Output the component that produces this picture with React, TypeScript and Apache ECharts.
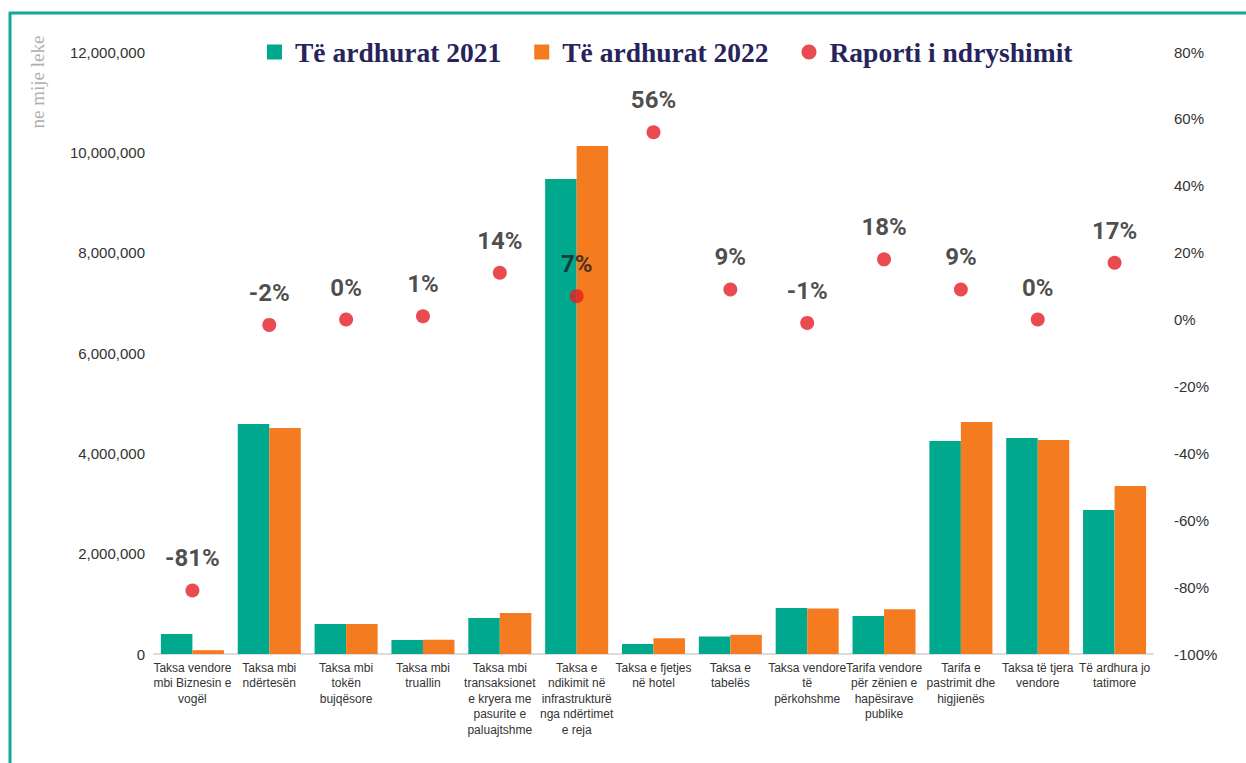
import React, { useEffect, useRef } from "react";
import * as echarts from "echarts";

const categories = [
  "Taksa vendore\nmbi Biznesin e\nvogël",
  "Taksa mbi\nndërtesën",
  "Taksa mbi\ntokën\nbujqësore",
  "Taksa mbi\ntruallin",
  "Taksa mbi\ntransaksionet\ne kryera me\npasurite e\npaluajtshme",
  "Taksa e\nndikimit në\ninfrastrukturë\nnga ndërtimet\ne reja",
  "Taksa e fjetjes\nnë hotel",
  "Taksa e\ntabelës",
  "Taksa vendore\ntë\npërkohshme",
  "Tarifa vendore\npër zënien e\nhapësirave\npublike",
  "Tarifa e\npastrimit dhe\nhigjienës",
  "Taksa të tjera\nvendore",
  "Të ardhura jo\ntatimore",
];

const revenue2021 = [
  400000, 4585000, 598000, 280000, 718000, 9468000, 200000, 350000, 917000,
  757000, 4246000, 4305000, 2870000,
];
const revenue2022 = [
  76000, 4505000, 598000, 282000, 817000, 10126000, 312000, 382000, 908000,
  893000, 4624000, 4265000, 3349000,
];
const changeRatio = [-81, -1.6, 0, 1, 14, 7, 56, 9, -1, 18, 9, 0, 17];

const leftTicks = { min: 0, max: 12000000, interval: 2000000 };
const rightTicks = { min: -100, max: 80, interval: 20 };

const seriesNames = ["Të ardhurat 2021", "Të ardhurat 2022", "Raporti i ndryshimit"];
const axisTitle = "ne mije leke";

const TEAL = "#00a88e";
const ORANGE = "#f47b20";
const RED = "#e41e26";
const NAVY = "#27245c";
const SANS = "'Liberation Sans', Arial, sans-serif";

export default function App() {
  const ref = useRef<HTMLDivElement>(null);

  useEffect(() => {
    if (!ref.current) return;
    const chart = echarts.init(ref.current, null, { renderer: "svg" });
    chart.setOption({
      animation: false,
      backgroundColor: "#ffffff",
      legend: {
        top: 33,
        left: 262,
        itemWidth: 15,
        itemHeight: 15,
        itemGap: 33,
        textStyle: {
          fontFamily: "'Liberation Serif', 'DejaVu Serif', serif",
          fontWeight: "bold",
          fontSize: 27.5,
          color: NAVY,
          padding: [0, 0, 0, 8],
        },
        data: [
          { name: seriesNames[0], icon: "rect" },
          { name: seriesNames[1], icon: "rect" },
          { name: seriesNames[2], icon: "circle" },
        ],
      },
      grid: { left: 154, right: 93, top: 52, bottom: 109 },
      xAxis: {
        type: "category",
        data: categories,
        axisLine: { show: true, lineStyle: { color: "#dcdcdc", width: 2 } },
        axisTick: { show: false },
        axisLabel: {
          interval: 0,
          margin: 6,
          fontFamily: SANS,
          fontSize: 12,
          lineHeight: 15.5,
          color: "#333333",
        },
      },
      yAxis: [
        {
          type: "value",
          min: leftTicks.min,
          max: leftTicks.max,
          interval: leftTicks.interval,
          splitLine: { show: false },
          axisLine: { show: false },
          axisTick: { show: false },
          axisLabel: {
            margin: 9,
            fontFamily: SANS,
            fontSize: 15,
            color: "#333333",
            formatter: (v: number) => v.toLocaleString("en-US"),
          },
        },
        {
          type: "value",
          min: rightTicks.min,
          max: rightTicks.max,
          interval: rightTicks.interval,
          splitLine: { show: false },
          axisLine: { show: false },
          axisTick: { show: false },
          axisLabel: {
            margin: 21,
            fontFamily: SANS,
            fontSize: 15,
            color: "#333333",
            formatter: (v: number) => `${v}%`,
          },
        },
      ],
      series: [
        {
          name: seriesNames[0],
          type: "bar",
          data: revenue2021,
          itemStyle: { color: TEAL },
          barGap: "0%",
          barCategoryGap: "18%",
        },
        {
          name: seriesNames[1],
          type: "bar",
          data: revenue2022,
          itemStyle: { color: ORANGE },
          barGap: "0%",
          barCategoryGap: "18%",
        },
        {
          name: seriesNames[2],
          type: "scatter",
          yAxisIndex: 1,
          data: changeRatio,
          symbolSize: 14,
          itemStyle: { color: RED },
          z: 5,
          label: {
            show: true,
            position: "top",
            distance: 13,
            fontFamily: "Roboto, sans-serif",
            fontWeight: "bold",
            fontSize: 24,
            color: "#1e1e1e",
            formatter: (p: any) => `${Math.round(p.value)}%`,
          },
        },
      ],
      graphic: [
        {
          type: "line",
          shape: { x1: 9, y1: 13, x2: 1246, y2: 13 },
          style: { stroke: "#14a896", lineWidth: 3 },
        },
        {
          type: "line",
          shape: { x1: 10, y1: 12, x2: 10, y2: 763 },
          style: { stroke: "#14a896", lineWidth: 3 },
        },
        {
          type: "text",
          x: 37,
          y: 82,
          rotation: Math.PI / 2,
          style: {
            text: axisTitle,
            fontFamily: "'Liberation Serif', 'DejaVu Serif', serif",
            fontSize: 19,
            fill: "#b0b0b0",
            align: "center",
            verticalAlign: "middle",
          },
        },
      ],
    });
    return () => chart.dispose();
  }, []);

  return (
    <div
      ref={ref}
      style={{ position: "fixed", left: 0, top: 0, width: 1246, height: 763 }}
    />
  );
}
